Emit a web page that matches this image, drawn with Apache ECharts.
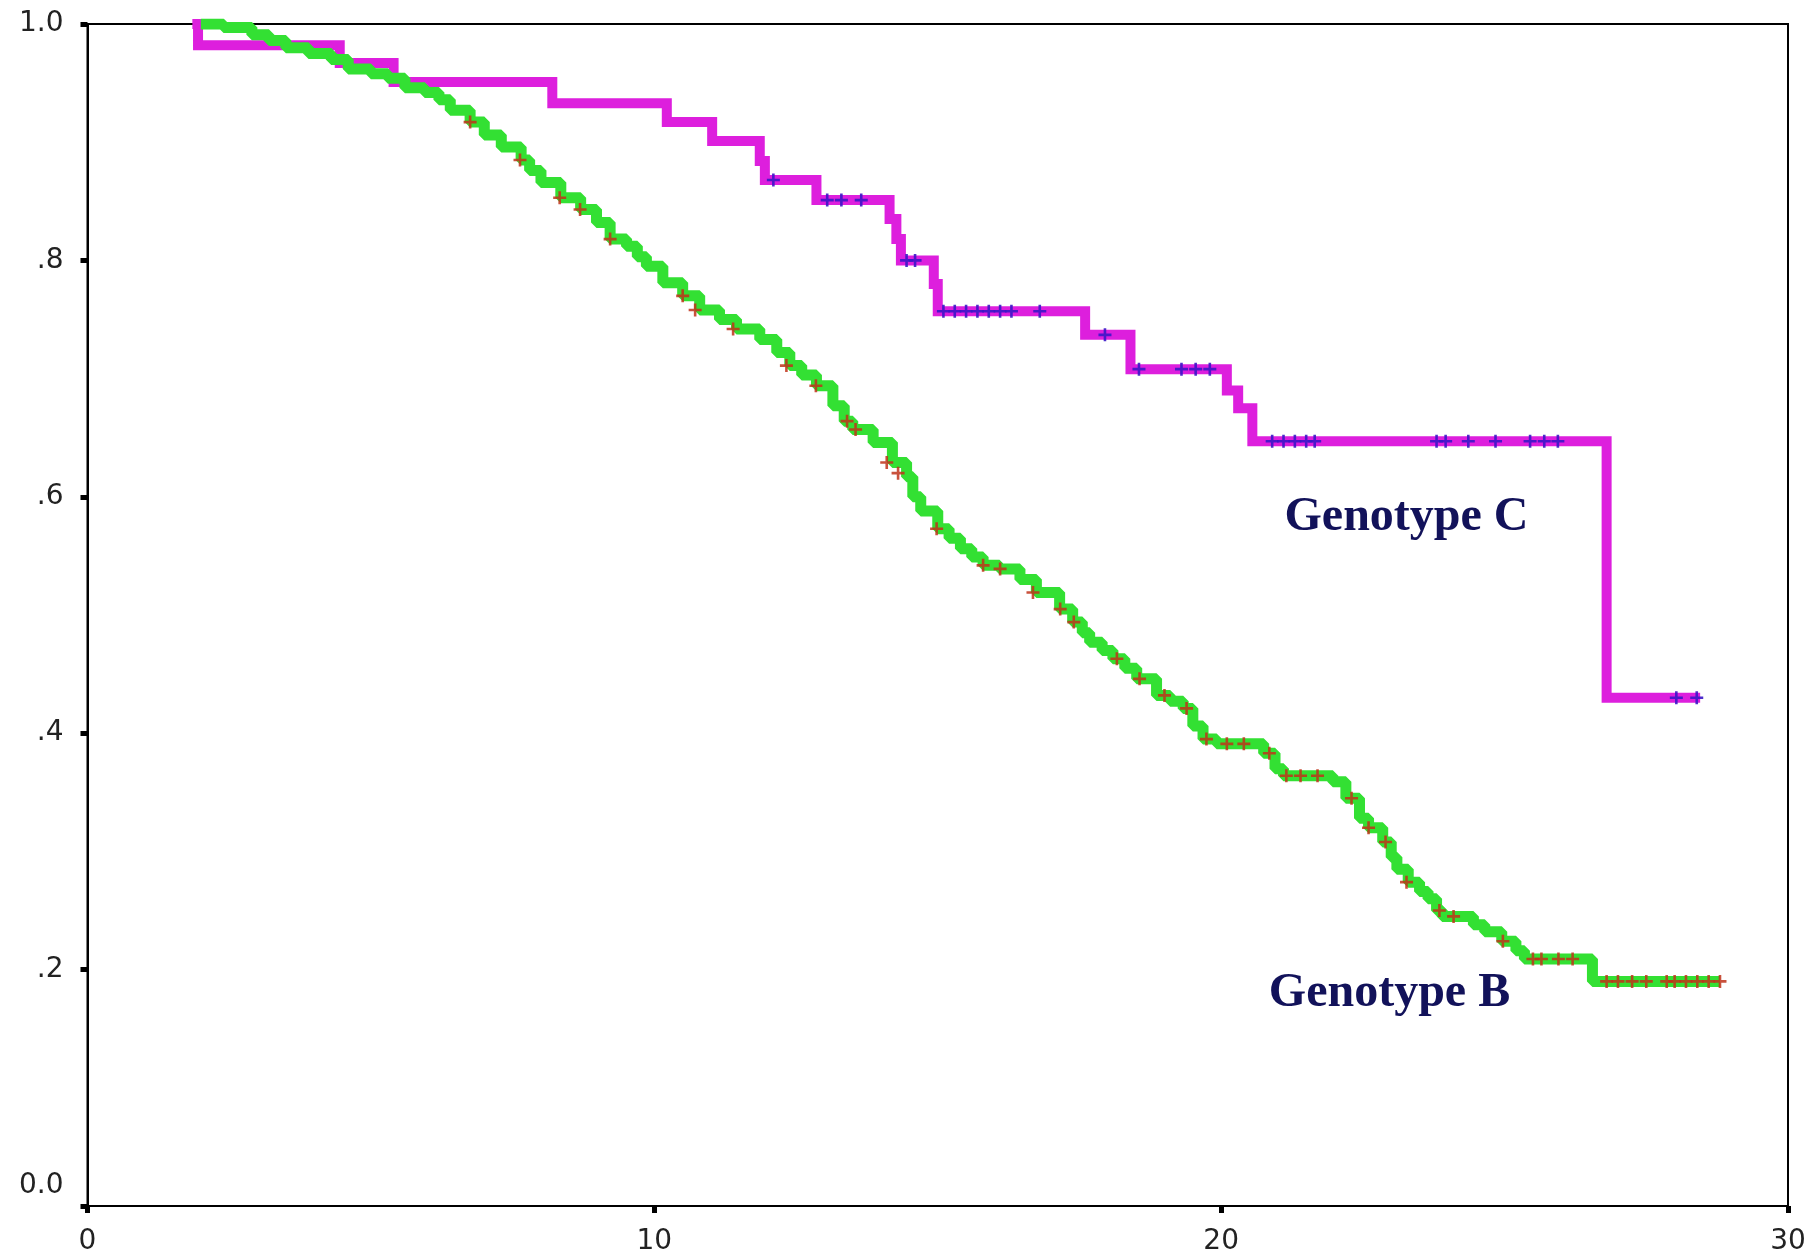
<!DOCTYPE html>
<html>
<head>
<meta charset="utf-8">
<script src="https://cdn.jsdelivr.net/npm/echarts@6/dist/echarts.min.js"></script>
<style>
html,body{margin:0;padding:0;background:#fff;}
#main{width:1810px;height:1256px;}
</style>
</head>
<body>
<div id="main"></div>
<script>
// Genotype C (magenta) step curve: time, cumulative survival after event
const cTimes = [1.85, 1.95, 4.45, 5.4, 8.2, 10.22, 11.02, 11.86, 11.95, 12.86, 14.15, 14.27, 14.35, 14.93, 15.0, 17.6, 18.4, 20.1, 20.3, 20.55, 26.8, 28.45];
const cSurv  = [1.0, 0.982, 0.967, 0.951, 0.933, 0.917, 0.901, 0.884, 0.868, 0.851, 0.835, 0.818, 0.800, 0.780, 0.757, 0.737, 0.708, 0.690, 0.675, 0.647, 0.430, 0.430];

// Genotype B (green) step curve
const bTimes = [2.0, 2.4, 2.9, 3.2, 3.5, 3.9, 4.3, 4.6, 5.0, 5.3, 5.6, 5.95, 6.2, 6.4, 6.75, 7.0, 7.3, 7.65, 7.8, 8.0, 8.35, 8.7, 8.98, 9.22, 9.51, 9.7, 9.86, 10.15, 10.5, 10.8, 11.15, 11.45, 11.86, 12.16, 12.39, 12.6, 12.86, 13.15, 13.35, 13.5, 13.86, 14.2, 14.45, 14.56, 14.7, 15.0, 15.2, 15.4, 15.6, 15.8, 16.09, 16.45, 16.74, 17.15, 17.38, 17.55, 17.68, 17.9, 18.09, 18.3, 18.51, 18.86, 19.1, 19.33, 19.5, 19.68, 19.92, 20.75, 20.95, 21.1, 21.97, 22.2, 22.44, 22.6, 22.85, 23.0, 23.1, 23.3, 23.5, 23.65, 23.8, 23.9, 24.45, 24.65, 24.95, 25.2, 25.35, 26.55, 28.8];
const bSurv  = [1.0, 0.997, 0.991, 0.986, 0.980, 0.975, 0.970, 0.962, 0.958, 0.954, 0.946, 0.942, 0.936, 0.927, 0.917, 0.906, 0.896, 0.885, 0.876, 0.866, 0.853, 0.843, 0.832, 0.818, 0.812, 0.803, 0.795, 0.781, 0.770, 0.758, 0.750, 0.742, 0.733, 0.722, 0.711, 0.703, 0.694, 0.677, 0.664, 0.657, 0.646, 0.629, 0.617, 0.600, 0.588, 0.573, 0.565, 0.556, 0.549, 0.542, 0.539, 0.530, 0.519, 0.505, 0.494, 0.485, 0.477, 0.470, 0.463, 0.455, 0.446, 0.432, 0.427, 0.421, 0.406, 0.395, 0.391, 0.383, 0.370, 0.364, 0.359, 0.345, 0.328, 0.320, 0.308, 0.295, 0.285, 0.274, 0.266, 0.260, 0.250, 0.245, 0.238, 0.232, 0.224, 0.216, 0.209, 0.190, 0.190];

// Censored observations
const cCensT = [12.1, 13.05, 13.3, 13.65, 14.45, 14.6, 15.1, 15.3, 15.5, 15.7, 15.9, 16.1, 16.3, 16.8, 17.95, 18.55, 19.3, 19.55, 19.8, 20.9, 21.1, 21.3, 21.5, 21.65, 23.8, 23.96, 24.36, 24.84, 25.45, 25.7, 25.94, 28.03, 28.39];
const cCensS = [0.868, 0.851, 0.851, 0.851, 0.800, 0.800, 0.757, 0.757, 0.757, 0.757, 0.757, 0.757, 0.757, 0.757, 0.737, 0.708, 0.708, 0.708, 0.708, 0.647, 0.647, 0.647, 0.647, 0.647, 0.647, 0.647, 0.647, 0.647, 0.647, 0.647, 0.647, 0.430, 0.430];
const bCensT = [6.75, 7.63, 8.33, 8.69, 9.22, 10.5, 10.72, 11.39, 12.33, 12.85, 13.4, 13.55, 14.1, 14.3, 14.98, 15.8, 16.1, 16.68, 17.16, 17.4, 18.16, 18.56, 19.0, 19.39, 19.74, 20.1, 20.4, 20.85, 21.15, 21.4, 21.7, 22.3, 22.6, 22.9, 23.27, 23.85, 24.1, 24.97, 25.5, 25.65, 25.95, 26.2, 26.8, 27.0, 27.25, 27.5, 27.86, 28.0, 28.2, 28.4, 28.6, 28.8];
const bCensS = [0.917, 0.885, 0.853, 0.843, 0.818, 0.770, 0.758, 0.742, 0.711, 0.694, 0.664, 0.657, 0.629, 0.620, 0.573, 0.542, 0.539, 0.519, 0.505, 0.494, 0.463, 0.446, 0.432, 0.421, 0.395, 0.391, 0.391, 0.383, 0.364, 0.364, 0.364, 0.345, 0.320, 0.308, 0.274, 0.250, 0.245, 0.224, 0.209, 0.209, 0.209, 0.209, 0.190, 0.190, 0.190, 0.190, 0.190, 0.190, 0.190, 0.190, 0.190, 0.190];

const xTicks = [0, 10, 20, 30];
const yTickLabels = {0: '0.0', 0.2: '.2', 0.4: '.4', 0.6: '.6', 0.8: '.8', 1: '1.0'};

const labels = [
  {name: 'Genotype C', x: 23.27, y: 0.582},
  {name: 'Genotype B', x: 22.97, y: 0.180}
];

const zip = (a, b) => a.map((v, i) => [v, b[i]]);
const plusPath = 'path://M4,0H6V4H10V6H6V10H4V6H0V4H4Z';

const chart = echarts.init(document.getElementById('main'), null, {renderer: 'canvas'});
chart.setOption({
  backgroundColor: '#ffffff',
  animation: false,
  grid: {left: 87.5, top: 24, right: 22, bottom: 48, show: true, borderColor: '#000', borderWidth: 2, backgroundColor: 'transparent'},
  xAxis: {
    type: 'value', min: 0, max: 30, interval: 10,
    axisLine: {show: true, lineStyle: {color: '#000', width: 2}},
    axisTick: {show: true, length: 7, lineStyle: {color: '#000', width: 5}},
    splitLine: {show: false},
    axisLabel: {
      margin: 22, color: '#222', fontFamily: 'DejaVu Sans', fontSize: 28,
      formatter: v => xTicks.includes(v) ? String(v) : ''
    }
  },
  yAxis: {
    type: 'value', min: 0, max: 1, interval: 0.2,
    axisLine: {show: true, lineStyle: {color: '#000', width: 2}},
    axisTick: {show: true, length: 7, lineStyle: {color: '#000', width: 5}},
    splitLine: {show: false},
    axisLabel: {
      margin: 24, color: '#222', fontFamily: 'DejaVu Sans', fontSize: 28,
      formatter: v => {
        const key = Math.round(v * 10) / 10;
        const t = yTickLabels[key];
        return key === 0 ? '{z|' + t + '}' : t;
      },
      rich: {z: {fontFamily: 'DejaVu Sans', fontSize: 28, color: '#222', padding: [0, 0, 40, 0]}}
    }
  },
  series: [
    {
      name: 'Genotype C', type: 'line', step: 'end', showSymbol: false,
      data: zip(cTimes, cSurv),
      lineStyle: {color: '#dd1fdd', width: 10, join: 'miter', cap: 'butt'},
      z: 2
    },
    {
      name: 'Genotype B', type: 'line', step: 'end', showSymbol: false,
      data: zip(bTimes, bSurv),
      lineStyle: {color: '#33e033', width: 11, join: 'bevel', cap: 'butt'},
      z: 3
    },
    {
      name: 'C censored', type: 'scatter', symbol: plusPath, symbolSize: 13,
      data: zip(cCensT, cCensS),
      itemStyle: {color: '#3a16c8', opacity: 0.9},
      z: 4
    },
    {
      name: 'B censored', type: 'scatter', symbol: plusPath, symbolSize: 13,
      data: zip(bCensT, bCensS),
      itemStyle: {color: '#c0321a', opacity: 0.85},
      z: 5
    },
    {
      name: 'labels', type: 'scatter', symbolSize: 0, silent: true,
      itemStyle: {color: '#12125a', opacity: 1},
      data: labels.map(l => ({name: l.name, value: [l.x, l.y]})),
      label: {
        show: true, position: 'inside', formatter: p => p.name, opacity: 1,
        fontFamily: 'Liberation Serif', fontWeight: 'bold', fontSize: 48, color: '#12125a',
        textBorderWidth: 0, textBorderColor: 'transparent'
      },
      z: 6
    }
  ]
});
</script>
</body>
</html>
